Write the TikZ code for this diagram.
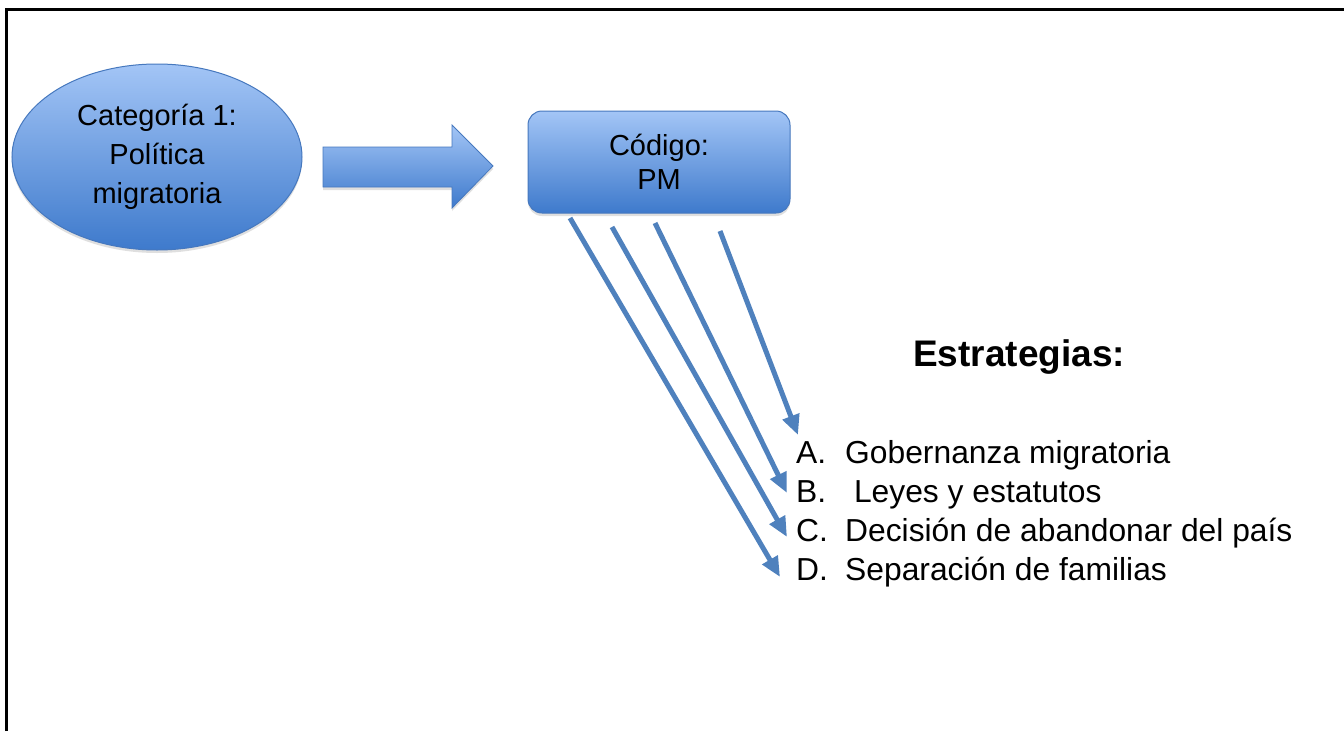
\documentclass[tikz,border=0pt]{standalone}
\usepackage{fontspec}
\setmainfont{Liberation Sans}
\usetikzlibrary{shadows,arrows.meta,shapes.geometric}
\definecolor{topblue}{RGB}{163,197,246}
\definecolor{botblue}{RGB}{62,122,204}
\definecolor{edgeblue}{RGB}{70,120,190}
\definecolor{linkblue}{RGB}{79,129,189}
\tikzset{
  shapefill/.style={top color=topblue, bottom color=botblue, draw=edgeblue, line width=1pt,
    drop shadow={opacity=0.25, shadow xshift=0pt, shadow yshift=-3pt}},
  link/.style={draw=linkblue, line width=5pt, -{Triangle[length=20pt,width=17pt]}},
  item/.style={anchor=base west, inner sep=0pt, font=\fontsize{31.8}{36}\selectfont},
}
\begin{document}
\begin{tikzpicture}[x=1pt,y=-1pt]
\useasboundingbox (0,0) rectangle (1344,731);
\fill[white] (0,0) rectangle (1344,731);
\draw[line width=3pt] (6,731) -- (6,9) -- (1344,9);
% ellipse
\node[shapefill, ellipse, minimum width=290pt, minimum height=186pt, align=center,
  font=\fontsize{29}{39}\selectfont] (cat) at (157,157) {Categoría 1:\\Política\\migratoria};
% block arrow
\path[shapefill, line width=0.8pt] (323,147) -- (452,147) -- (452,125) -- (493,166) -- (452,208) -- (452,187) -- (323,187) -- cycle;
% code box
\node[shapefill, rectangle, rounded corners=14pt, minimum width=262pt, minimum height=102pt,
  align=center, font=\fontsize{29}{34}\selectfont] (pm) at (659,162) {Código:\\PM};
% title
\node[anchor=base west, inner sep=0pt, font=\bfseries\fontsize{37}{42}\selectfont] (title) at (913,366) {Estrategias:};
% items
\node[item] (iA) at (796,463) {\makebox[49pt][l]{A.}Gobernanza migratoria};
\node[item] (iB) at (796,502) {\makebox[49pt][l]{B.} Leyes y estatutos};
\node[item] (iC) at (796,541) {\makebox[49pt][l]{C.}Decisión de abandonar del país};
\node[item] (iD) at (796,580) {\makebox[49pt][l]{D.}Separación de familias};
% start points
\coordinate (s1) at (570,218);
\coordinate (s2) at (612,227);
\coordinate (s3) at (655,223);
\coordinate (s4) at (720,231);
\coordinate (e1) at (780,577);
\coordinate (e2) at (787,537);
\coordinate (e3) at (787,493);
\coordinate (e4) at (798,435);
\draw[link] (s1) -- (e1);
\draw[link] (s2) -- (e2);
\draw[link] (s3) -- (e3);
\draw[link] (s4) -- (e4);
\end{tikzpicture}
\end{document}
